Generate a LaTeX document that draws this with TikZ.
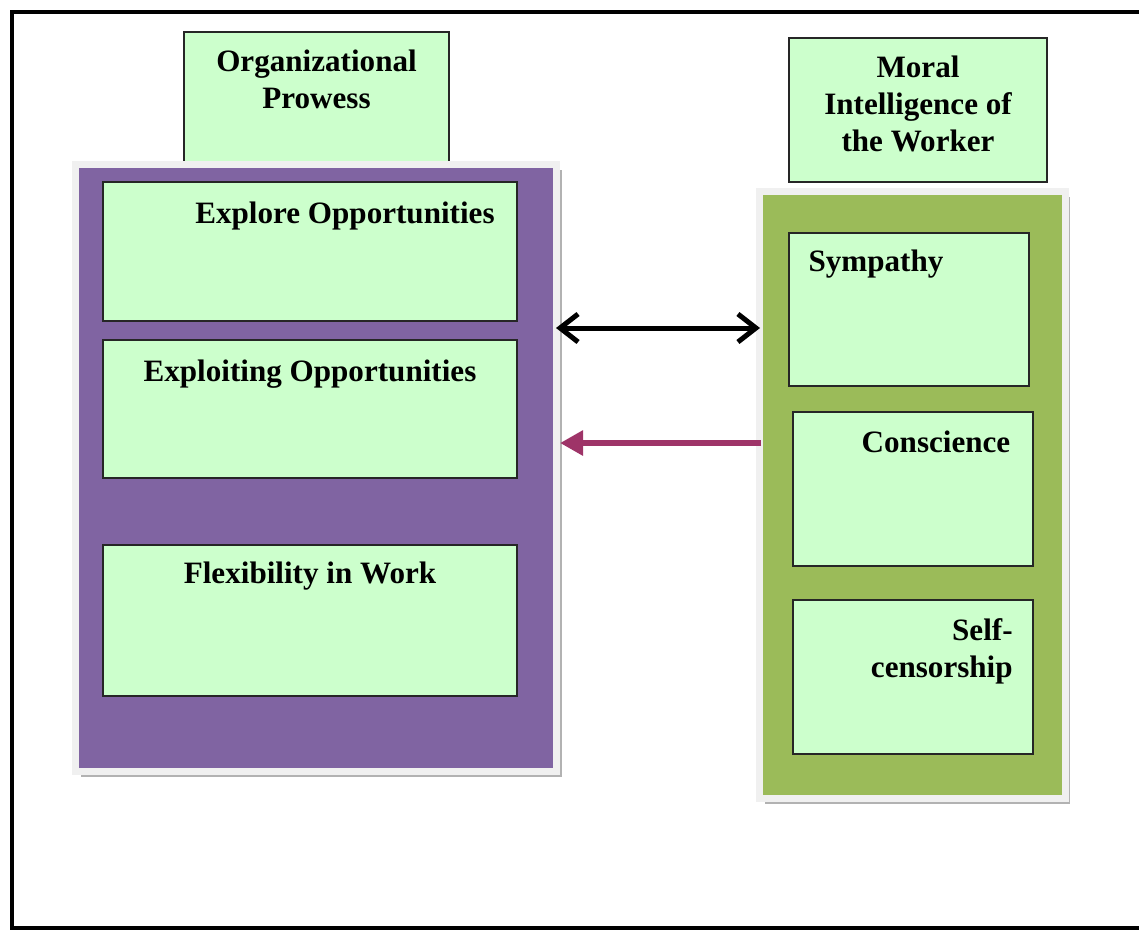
\documentclass[tikz,border=0pt]{standalone}
\usepackage{fontspec}
\setmainfont{Liberation Serif}
\usetikzlibrary{arrows.meta,positioning,shadows}
\definecolor{boxgreen}{RGB}{204,255,204}
\definecolor{panelpurple}{RGB}{128,100,162}
\definecolor{panelgreen}{RGB}{155,187,89}
\definecolor{arrowred}{RGB}{158,52,104}

\tikzset{
	panel/.style={draw=black!6, line width=0.14cm, minimum height=12.14cm, inner sep=0pt,
		drop shadow={shadow xshift=0.1cm, shadow yshift=-0.1cm, fill=black!30, opacity=1}},
	item/.style={draw=black!85, fill=boxgreen, line width=0.04cm, inner sep=0pt},
	lbl/.style={font=\fontsize{17.7}{21}\selectfont\bfseries, inner sep=0pt},
	both/.style={line width=0.1cm, shorten <=-0.08cm, shorten >=-0.08cm,
		{Straight Barb[length=0.36cm,width=0.56cm]}-{Straight Barb[length=0.36cm,width=0.56cm]}},
	back/.style={arrowred, line width=0.12cm, -{Triangle[length=0.46cm,width=0.48cm]}},
}

\begin{document}
\begin{tikzpicture}
	\useasboundingbox (0,0) rectangle (22.78,-18.62);
	\draw[line width=0.08cm] (22.9,-0.24) -- (0.24,-0.24) -- (0.24,-18.56) -- (22.9,-18.56);

	% left side
	\node[item, minimum width=5.3cm, minimum height=2.68cm] (orgtitle) at (6.33,-1.98) {};
	\node[lbl, align=center, anchor=north] (orgtxt) at ([yshift=-0.38cm]orgtitle.north) {Organizational\\Prowess};
	\node[panel, fill=panelpurple, minimum width=9.62cm] (orgpanel) at (6.32,-9.36) {};
	\node[item, minimum width=8.28cm, minimum height=2.78cm] (explore) at (6.2,-5.03) {};
	\node[item, minimum width=8.28cm, minimum height=2.76cm] (exploit) at (6.2,-8.18) {};
	\node[item, minimum width=8.28cm, minimum height=3.02cm] (flex) at (6.2,-12.41) {};
	\node[lbl, anchor=base] (exploretxt) at ([xshift=0.7cm, yshift=-0.84cm]explore.north) {Explore Opportunities};
	\node[lbl, anchor=base] (exploittxt) at ([yshift=-0.84cm]exploit.north) {Exploiting Opportunities};
	\node[lbl, anchor=base] (flextxt) at ([yshift=-0.78cm]flex.north) {Flexibility in Work};

	% right side
	\node[item, minimum width=5.16cm, minimum height=2.88cm] (moraltitle) at (18.36,-2.2) {};
	\node[lbl, align=center, anchor=north] (moraltxt) at ([yshift=-0.38cm]moraltitle.north) {Moral\\Intelligence of\\the Worker};
	\node[panel, fill=panelgreen, minimum width=6.11cm] (moralpanel) at (18.245,-9.9) {};
	\node[item, minimum width=4.8cm, minimum height=3.06cm] (sympathy) at (18.18,-6.19) {};
	\node[item, minimum width=4.8cm, minimum height=3.08cm] (conscience) at (18.26,-9.78) {};
	\node[item, minimum width=4.8cm, minimum height=3.08cm] (selfcens) at (18.26,-13.54) {};
	\node[lbl, anchor=base] (sympathytxt) at ([xshift=-0.66cm, yshift=-0.78cm]sympathy.north) {Sympathy};
	\node[lbl, anchor=base] (consciencetxt) at ([xshift=0.46cm, yshift=-0.82cm]conscience.north) {Conscience};
	\node[lbl, align=right, anchor=north east] (selfcenstxt) at ([xshift=-0.42cm, yshift=-0.38cm]selfcens.north east) {Self-\\censorship};

	% arrows
	\coordinate (toparrow) at ([yshift=2.8cm]orgpanel.east);
	\coordinate (lowarrow) at ([yshift=0.5cm]orgpanel.east);
	\draw[both] (toparrow) -- (toparrow -| moralpanel.west);
	\draw[back] ([xshift=0.1cm]lowarrow -| moralpanel.west) -- (lowarrow);
\end{tikzpicture}
\end{document}
